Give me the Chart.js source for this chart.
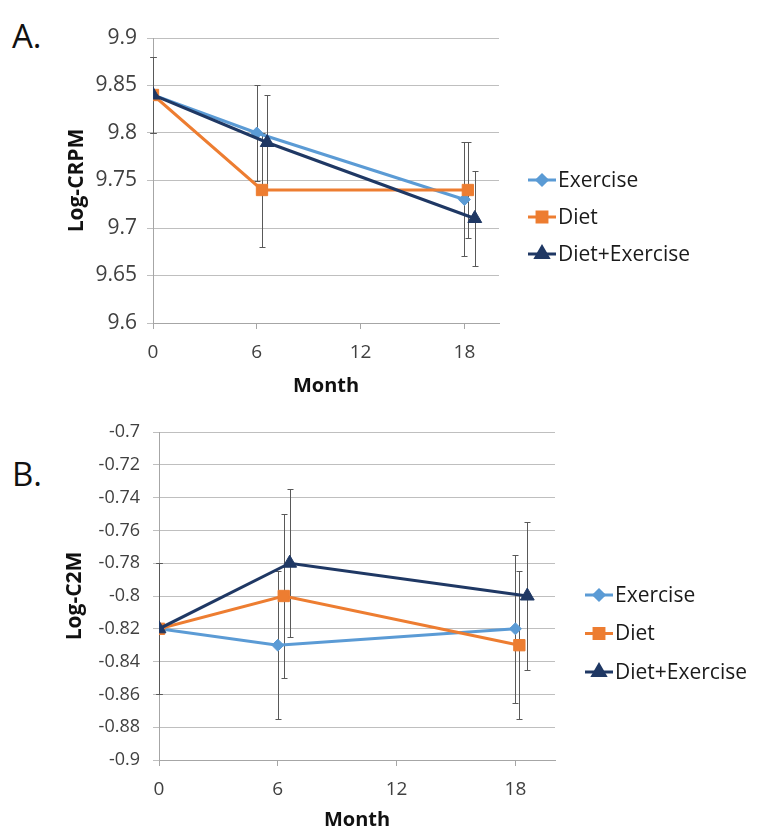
<!DOCTYPE html>
<html>
<head>
<meta charset="utf-8">
<script src="https://cdn.jsdelivr.net/npm/chart.js@4.4.0/dist/chart.umd.min.js"></script>
<style>
  body { margin: 0; background: #fff; }
  #wrap { position: relative; width: 757px; height: 834px; overflow: hidden; }
  .panel { position: absolute; left: 0; width: 757px; }
  .tag { position: absolute; left: 12px; font: 33px/1 "Open Sans", sans-serif; color: #111; }
</style>
</head>
<body>
<div id="wrap">
  <div class="tag" style="top:19px">A.</div>
  <div class="panel" style="top:0;height:400px"><canvas id="chartA" width="757" height="400"></canvas></div>
  <div class="tag" style="top:457px">B.</div>
  <div class="panel" style="top:400px;height:434px"><canvas id="chartB" width="757" height="434"></canvas></div>
</div>
<script>
// x positions (months) - Excel offsets the groups a little so bars don't overlap
const seriesNames = ["Exercise", "Diet", "Diet+Exercise"];
const monthExercise = [0, 6, 18];
const monthDiet = [0, 6.3, 18.2];
const monthDietEx = [0, 6.6, 18.6];
const monthTicks = [0, 6, 12, 18];

// panel A: Log-CRPM
const crpmExercise = [9.84, 9.80, 9.73];
const crpmDiet = [9.84, 9.74, 9.74];
const crpmDietEx = [9.84, 9.79, 9.71];
const crpmErrExercise = [0.04, 0.05, 0.06];
const crpmErrDiet = [0.04, 0.06, 0.05];
const crpmErrDietEx = [0.04, 0.05, 0.05];

// panel B: Log-C2M
const c2mExercise = [-0.82, -0.83, -0.82];
const c2mDiet = [-0.82, -0.80, -0.83];
const c2mDietEx = [-0.82, -0.78, -0.80];
const c2mErrExercise = [0.04, 0.045, 0.045];
const c2mErrDiet = [0.04, 0.05, 0.045];
const c2mErrDietEx = [0.04, 0.045, 0.045];

const crpmTicks = [9.6, 9.65, 9.7, 9.75, 9.8, 9.85, 9.9];
const c2mTicks = [-0.9, -0.88, -0.86, -0.84, -0.82, -0.8, -0.78, -0.76, -0.74, -0.72, -0.7];

const colors = ["#5B9BD5", "#ED7D31", "#1F3864"];
const styles = ["rectRot", "rect", "triangle"];
const radii = [6, 8, 8];
const FONT = "'Open Sans', sans-serif";

function toPoints(xs, ys) {
  return xs.map((x, i) => ({ x: x, y: ys[i] }));
}

// vertical error bars with small caps, drawn behind the lines
const errorBars = {
  id: "errorBars",
  beforeDatasetsDraw(chart) {
    const ctx = chart.ctx;
    const xs = chart.scales.x, ys = chart.scales.y;
    ctx.save();
    ctx.strokeStyle = "#595959";
    ctx.lineWidth = 1;
    chart.data.datasets.forEach((ds) => {
      ds.data.forEach((p, i) => {
        const e = ds.errors[i];
        const px = Math.round(xs.getPixelForValue(p.x)) + 0.5;
        const top = Math.round(ys.getPixelForValue(p.y + e)) + 0.5;
        const bot = Math.round(ys.getPixelForValue(p.y - e)) + 0.5;
        ctx.beginPath();
        ctx.moveTo(px, top); ctx.lineTo(px, bot);
        ctx.moveTo(px - 3, top); ctx.lineTo(px + 3, top);
        ctx.moveTo(px - 3, bot); ctx.lineTo(px + 3, bot);
        ctx.stroke();
      });
    });
    ctx.restore();
  }
};

// Excel-like legend: short line with marker, then label
const sideLegend = {
  id: "sideLegend",
  afterDraw(chart, args, opts) {
    const ctx = chart.ctx;
    ctx.save();
    ctx.font = "21px " + FONT;
    ctx.textBaseline = "middle";
    ctx.textAlign = "left";
    seriesNames.forEach((name, i) => {
      const y = opts.y + i * opts.gap;
      ctx.strokeStyle = colors[i];
      ctx.lineWidth = 3;
      ctx.beginPath();
      ctx.moveTo(opts.x, y);
      ctx.lineTo(opts.x + 28, y);
      ctx.stroke();
      ctx.fillStyle = colors[i];
      Chart.helpers.drawPoint(ctx, { pointStyle: styles[i], radius: radii[i] - 1, rotation: 0, borderWidth: 1 }, opts.x + 14, y);
      ctx.fill();
      ctx.fillStyle = "#1a1a1a";
      ctx.fillText(name, opts.x + 30, y + 1);
    });
    ctx.restore();
  }
};

// Excel shows 9.9 / -0.72, not 9.90 / -0.720
const plainNumber = (v) => String(Math.round(v * 1000) / 1000);

function makeChart(id, p) {
  const datasets = [
    { xs: monthExercise, ys: p.ex, err: p.errEx },
    { xs: monthDiet, ys: p.diet, err: p.errDiet },
    { xs: monthDietEx, ys: p.dietEx, err: p.errDietEx }
  ].map((s, i) => ({
    label: seriesNames[i],
    data: toPoints(s.xs, s.ys),
    errors: s.err,
    borderColor: colors[i],
    backgroundColor: colors[i],
    borderWidth: 3,
    pointStyle: styles[i],
    pointRadius: radii[i],
    pointBorderWidth: 1,
    showLine: true,
    order: 3 - i
  }));

  return new Chart(document.getElementById(id), {
    type: "scatter",
    data: { datasets: datasets },
    options: {
      responsive: false,
      animation: false,
      events: [],
      layout: { padding: p.padding },
      plugins: {
        legend: { display: false },
        tooltip: { enabled: false },
        sideLegend: p.legend
      },
      scales: {
        x: {
          type: "linear",
          min: 0,
          max: 20,
          afterBuildTicks: (s) => { s.ticks = monthTicks.map((v) => ({ value: v })); },
          afterFit: (s) => { s.height = p.xHeight; },
          grid: { drawOnChartArea: false, drawTicks: true, tickLength: 6, color: "#a6a6a6" },
          border: { color: "#a6a6a6" },
          ticks: { color: "#404040", font: { family: FONT, size: 19 }, padding: 12, maxRotation: 0 },
          title: { display: true, text: "Month", color: "#111", font: { family: FONT, size: 20, weight: "bold" }, padding: 0 }
        },
        y: {
          min: p.yMin,
          max: p.yMax,
          afterBuildTicks: (s) => { s.ticks = p.yTicks.map((v) => ({ value: v })); },
          afterFit: (s) => { s.width = p.yWidth; },
          grid: { color: "#bfbfbf", tickLength: 6 },
          border: { color: "#a6a6a6" },
          ticks: { color: "#404040", font: { family: FONT, size: p.yFont }, padding: p.yPad, callback: plainNumber },
          title: { display: true, text: p.yTitle, color: "#111", font: { family: FONT, size: 21, weight: "bold" }, padding: 0 }
        }
      }
    },
    plugins: [errorBars, sideLegend]
  });
}

makeChart("chartA", {
  ex: crpmExercise, diet: crpmDiet, dietEx: crpmDietEx,
  errEx: crpmErrExercise, errDiet: crpmErrDiet, errDietEx: crpmErrDietEx,
  yMin: 9.6, yMax: 9.9, yTicks: crpmTicks, yTitle: "Log-CRPM",
  yFont: 21, yPad: 10, yWidth: 89, xHeight: 75,
  padding: { left: 64, top: 38, right: 258, bottom: 2 },
  legend: { x: 528, y: 180, gap: 37 }
});

makeChart("chartB", {
  ex: c2mExercise, diet: c2mDiet, dietEx: c2mDietEx,
  errEx: c2mErrExercise, errDiet: c2mErrDiet, errDietEx: c2mErrDietEx,
  yMin: -0.9, yMax: -0.7, yTicks: c2mTicks, yTitle: "Log-C2M",
  yFont: 18, yPad: 13, yWidth: 97, xHeight: 72,
  padding: { left: 62, top: 32, right: 202, bottom: 2 },
  legend: { x: 585, y: 195, gap: 38.5 }
});
</script>
</body>
</html>
